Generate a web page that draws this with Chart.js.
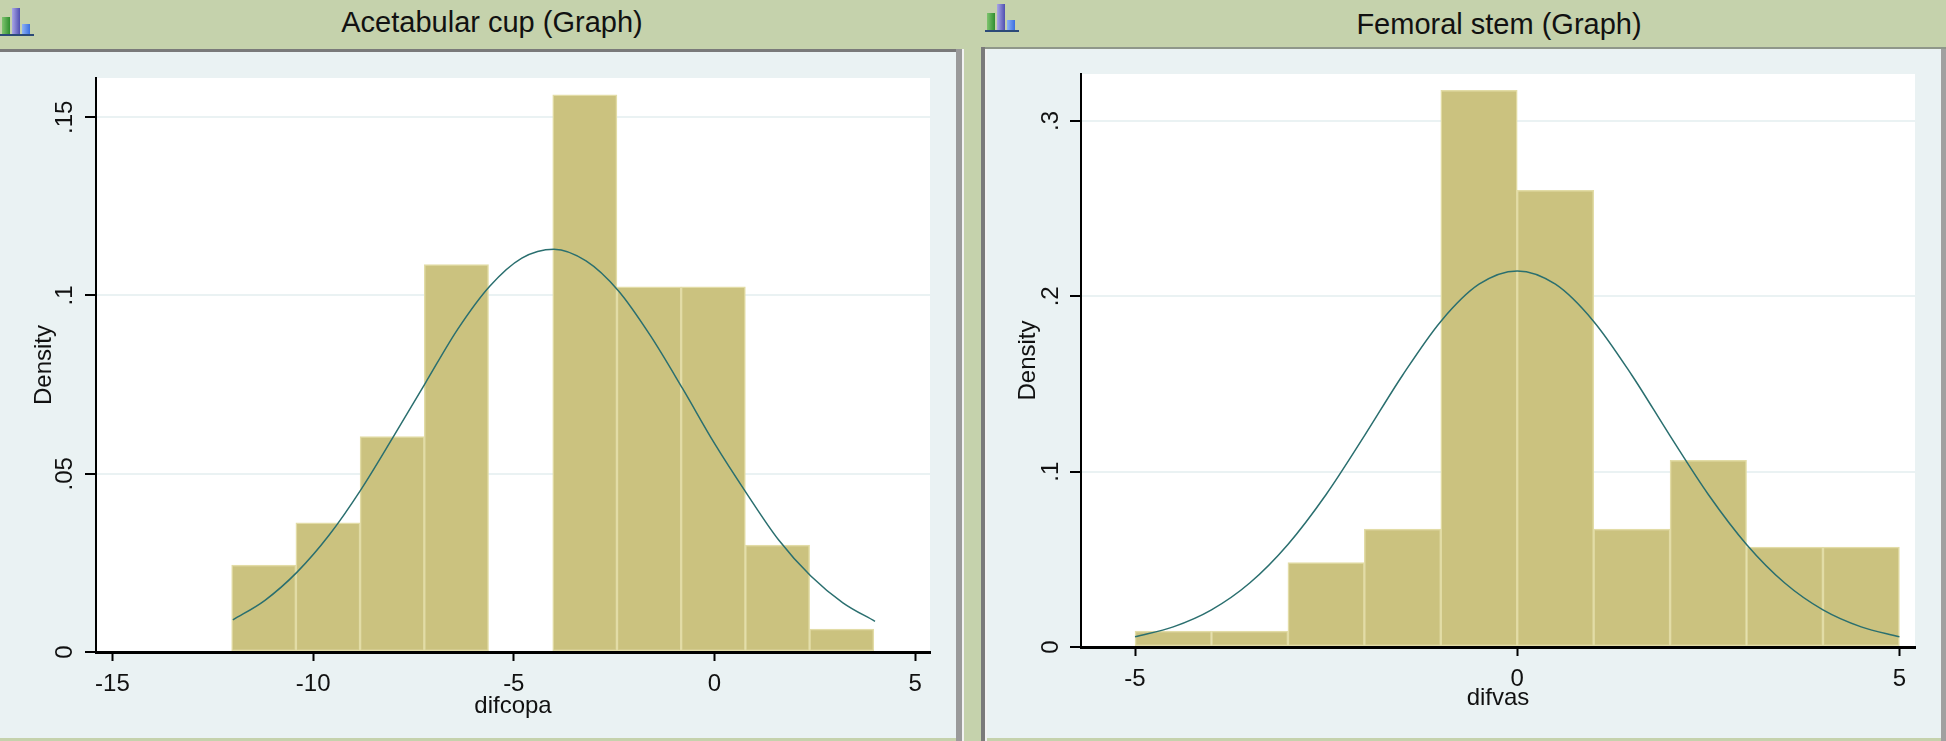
<!DOCTYPE html>
<html>
<head>
<meta charset="utf-8">
<title>Acetabular cup and Femoral stem</title>
<script src="https://cdn.jsdelivr.net/npm/chart.js@4"></script>
<style>
  html, body { margin: 0; padding: 0; }
  body { width: 1946px; height: 741px; overflow: hidden; background: #c5d2ac; position: relative; font-family: "Liberation Sans", Arial, sans-serif; }
  .title { position: absolute; font-size: 29px; color: #111; line-height: 34px; white-space: nowrap; transform: translateX(-50%); }
  .panel { position: absolute; background: #eaf2f3; }
  .edge { position: absolute; }
  canvas { position: absolute; }
  .icon { position: absolute; width: 34px; height: 30px; }
  .icon i { position: absolute; bottom: 2px; width: 8px; }
  .icon b { position: absolute; left: 0; right: 0; bottom: 0; height: 2px; background: #2c4a78; }
  .green { left: 2px; height: 17px; background: linear-gradient(90deg, #7fc46f, #2f8f2f); }
  .purple { left: 12px; height: 26px; background: linear-gradient(90deg, #a9a6e6, #4f4fb0); }
  .blue { left: 22px; height: 10px; background: linear-gradient(90deg, #8fb2f5, #3a6fe0); }
</style>
</head>
<body>
  <div class="title" style="left:492px;top:5px">Acetabular cup (Graph)</div>
  <div class="title" style="left:1499px;top:7px">Femoral stem (Graph)</div>

  <div class="icon" style="left:0;top:6px"><i class="green"></i><i class="purple"></i><i class="blue"></i><b></b></div>
  <div class="icon" style="left:985px;top:2px"><i class="green"></i><i class="purple"></i><i class="blue"></i><b></b></div>

  <div class="edge" style="left:0;top:49px;width:962px;height:3px;background:#7a7a7a"></div>
  <div class="edge" style="left:956px;top:49px;width:6px;height:692px;background:#9a9a9a"></div>
  <div class="edge" style="left:962px;top:49px;width:2px;height:692px;background:#f2f2f2"></div>
  <div class="panel" style="left:0;top:52px;width:956px;height:686px"></div>

  <div class="edge" style="left:981px;top:47px;width:965px;height:2px;background:#8f978a"></div>
  <div class="edge" style="left:981px;top:47px;width:4px;height:694px;background:#7a7a7a"></div>
  <div class="edge" style="left:985px;top:49px;width:2px;height:692px;background:#f2f2f2"></div>
  <div class="edge" style="left:1941px;top:49px;width:5px;height:692px;background:#a0a0a0"></div>
  <div class="panel" style="left:987px;top:49px;width:954px;height:689px"></div>

  <canvas id="cupChart" width="956" height="686" style="left:0;top:52px"></canvas>
  <canvas id="stemChart" width="954" height="689" style="left:987px;top:49px"></canvas>

<script>
// Acetabular cup
const cupBinCenters = [-11.23, -9.63, -8.03, -6.43, -4.83, -3.23, -1.63, -0.03, 1.57, 3.17];
const cupDensity = [0.0244, 0.0362, 0.0604, 0.1087, 0, 0.1563, 0.1024, 0.1024, 0.03, 0.0064];
const cupCurveX = [-12, -11.2, -10.4, -9.6, -8.8, -8, -7.2, -6.4, -5.6, -4.8, -4, -3.2, -2.4, -1.6, -0.8, 0, 0.8, 1.6, 2.4, 3.2, 4];
const cupCurveY = [0.009, 0.0145, 0.0224, 0.0328, 0.0457, 0.0604, 0.0755, 0.0905, 0.1026, 0.1105, 0.113, 0.1097, 0.1014, 0.0888, 0.074, 0.0585, 0.0445, 0.0314, 0.0213, 0.0138, 0.0086];
const cupXTicks = [-15, -10, -5, 0, 5];
const cupXLabels = ["-15", "-10", "-5", "0", "5"];
const cupYTicks = [0, 0.05, 0.1, 0.15];
const cupYLabels = ["0", ".05", ".1", ".15"];

// Femoral stem
const stemBinCenters = [-4.5, -3.5, -2.5, -1.5, -0.5, 0.5, 1.5, 2.5, 3.5, 4.5];
const stemDensity = [0.0091, 0.0091, 0.0481, 0.0673, 0.3175, 0.2604, 0.0673, 0.1064, 0.057, 0.057];
const stemCurveX = [-5, -4.5, -4, -3.5, -3, -2.5, -2, -1.5, -1, -0.5, 0, 0.5, 1, 1.5, 2, 2.5, 3, 3.5, 4, 4.5, 5];
const stemCurveY = [0.0058, 0.0115, 0.0212, 0.0365, 0.0585, 0.087, 0.1204, 0.155, 0.1857, 0.2069, 0.2145, 0.2069, 0.1857, 0.155, 0.1204, 0.087, 0.0585, 0.0365, 0.0212, 0.0115, 0.0058];
const stemXTicks = [-5, 0, 5];
const stemXLabels = ["-5", "0", "5"];
const stemYTicks = [0, 0.1, 0.2, 0.3];
const stemYLabels = ["0", ".1", ".2", ".3"];

const whitePlot = {
  id: "whitePlot",
  beforeDraw(chart) {
    const area = chart.chartArea;
    chart.ctx.save();
    chart.ctx.fillStyle = "#ffffff";
    chart.ctx.fillRect(area.left, area.top, area.width, area.height);
    chart.ctx.restore();
  }
};

function pairs(xs, ys) {
  return xs.map((x, i) => ({ x: x, y: ys[i] }));
}

function makeHistogram(id, o) {
  return new Chart(document.getElementById(id), {
    type: "bar",
    plugins: [whitePlot],
    data: {
      datasets: [
        {
          type: "line",
          data: pairs(o.curveX, o.curveY),
          borderColor: "#2a6f6f",
          borderWidth: 1.5,
          pointRadius: 0,
          cubicInterpolationMode: "monotone",
          order: 0
        },
        {
          type: "bar",
          data: pairs(o.binCenters, o.density),
          backgroundColor: "#cbc27f",
          borderColor: "#e2dca6",
          borderWidth: 1.5,
          borderSkipped: false,
          barPercentage: 1,
          categoryPercentage: 1,
          order: 1
        }
      ]
    },
    options: {
      responsive: false,
      animation: false,
      layout: { padding: { top: o.padTop, right: o.padRight } },
      plugins: { legend: { display: false }, tooltip: { enabled: false } },
      scales: {
        x: {
          type: "linear",
          offset: false,
          min: o.xMin,
          max: o.xMax,
          afterBuildTicks: (axis) => { axis.ticks = o.xTicks.map((v) => ({ value: v })); },
          afterFit: (axis) => { axis.height = o.xAxisHeight; },
          grid: { offset: false, drawOnChartArea: false, color: "#000000", tickLength: 9, tickWidth: 2 },
          border: { color: "#000000", width: 3, z: 1 },
          ticks: {
            color: "#111111",
            padding: 9,
            maxRotation: 0,
            autoSkip: false,
            font: { family: "Liberation Sans", size: 24 },
            callback: (value) => o.xLabels[o.xTicks.indexOf(value)]
          },
          title: {
            display: true,
            text: o.xTitle,
            color: "#111111",
            padding: { top: 0, bottom: o.xTitlePad },
            font: { family: "Liberation Sans", size: 24 }
          }
        },
        y: {
          min: 0,
          max: o.yMax,
          afterBuildTicks: (axis) => { axis.ticks = o.yTicks.map((v) => ({ value: v })); },
          afterFit: (axis) => { axis.width = o.yAxisWidth; },
          grid: { color: "#eaf2f3", lineWidth: 2, tickColor: "#000000", tickLength: 11, tickWidth: 2 },
          border: { color: "#000000", width: 2, z: 1 },
          ticks: {
            color: "#111111",
            padding: o.yTickPad,
            crossAlign: "center",
            minRotation: 90,
            maxRotation: 90,
            autoSkip: false,
            font: { family: "Liberation Sans", size: 24 },
            callback: (value) => o.yLabels[o.yTicks.indexOf(value)]
          },
          title: {
            display: true,
            text: "Density",
            color: "#111111",
            padding: { top: o.yTitlePad, bottom: 0 },
            font: { family: "Liberation Sans", size: 24 }
          }
        }
      }
    }
  });
}

makeHistogram("cupChart", {
  binCenters: cupBinCenters, density: cupDensity, curveX: cupCurveX, curveY: cupCurveY,
  xTicks: cupXTicks, xLabels: cupXLabels, yTicks: cupYTicks, yLabels: cupYLabels,
  xMin: -15.41, xMax: 5.37, yMax: 0.161, xTitle: "difcopa",
  padTop: 26, padRight: 26, xAxisHeight: 86, yAxisWidth: 96,
  yTickPad: 3, xTitlePad: 17, yTitlePad: 30
});

makeHistogram("stemChart", {
  binCenters: stemBinCenters, density: stemDensity, curveX: stemCurveX, curveY: stemCurveY,
  xTicks: stemXTicks, xLabels: stemXLabels, yTicks: stemYTicks, yLabels: stemYLabels,
  xMin: -5.707, xMax: 5.204, yMax: 0.3268, xTitle: "difvas",
  padTop: 25, padRight: 26, xAxisHeight: 91, yAxisWidth: 94,
  yTickPad: 9, xTitlePad: 25, yTitlePad: 27
});
</script>
</body>
</html>
